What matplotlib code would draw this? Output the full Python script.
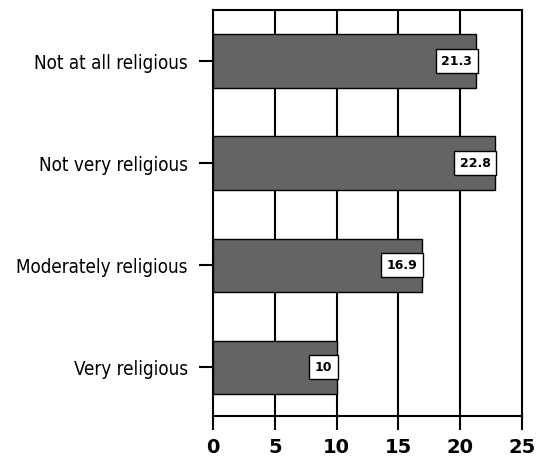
import matplotlib.pyplot as plt
import numpy as np

categories = ["Very religious", "Moderately religious", "Not very religious", "Not at all religious"]
values = [10, 16.9, 22.8, 21.3]
labels = ["10", "16.9", "22.8", "21.3"]
xticks = [0, 5, 10, 15, 20, 25]

fig = plt.figure(figsize=(5.4, 4.57), dpi=100)
ax = fig.add_axes([213/540, 1-416/457, (522-213)/540, (416-10)/457])

y = np.arange(len(categories))
ax.barh(y, values, height=0.52, color="#646464", edgecolor="black", linewidth=1, zorder=3)
for yi, v, t in zip(y, values, labels):
    ax.annotate(t, (v, yi), xytext=(-3, 0), textcoords="offset points",
                ha="right", va="center", fontsize=9, fontweight="heavy",
                bbox=dict(boxstyle="square,pad=0.45", fc="white", ec="black", lw=1), zorder=4)

ax.set_xlim(0, 25)
ax.set_ylim(-0.48, 3.5)
ax.set_xticks(xticks)
ax.set_xticklabels([str(t) for t in xticks], fontsize=14, fontweight="heavy")
ax.set_yticks(y)
ax.set_yticklabels(categories, fontsize=13.5, fontstretch="condensed")
for xt in xticks[1:-1]:
    ax.axvline(xt, color="black", lw=1.5, zorder=1)
ax.tick_params(axis="x", length=10, width=1.5, pad=6)
ax.tick_params(axis="y", length=10, width=1.5, pad=8)
for s in ax.spines.values():
    s.set_linewidth(1.5)

fig.savefig("out.png", dpi=100)
